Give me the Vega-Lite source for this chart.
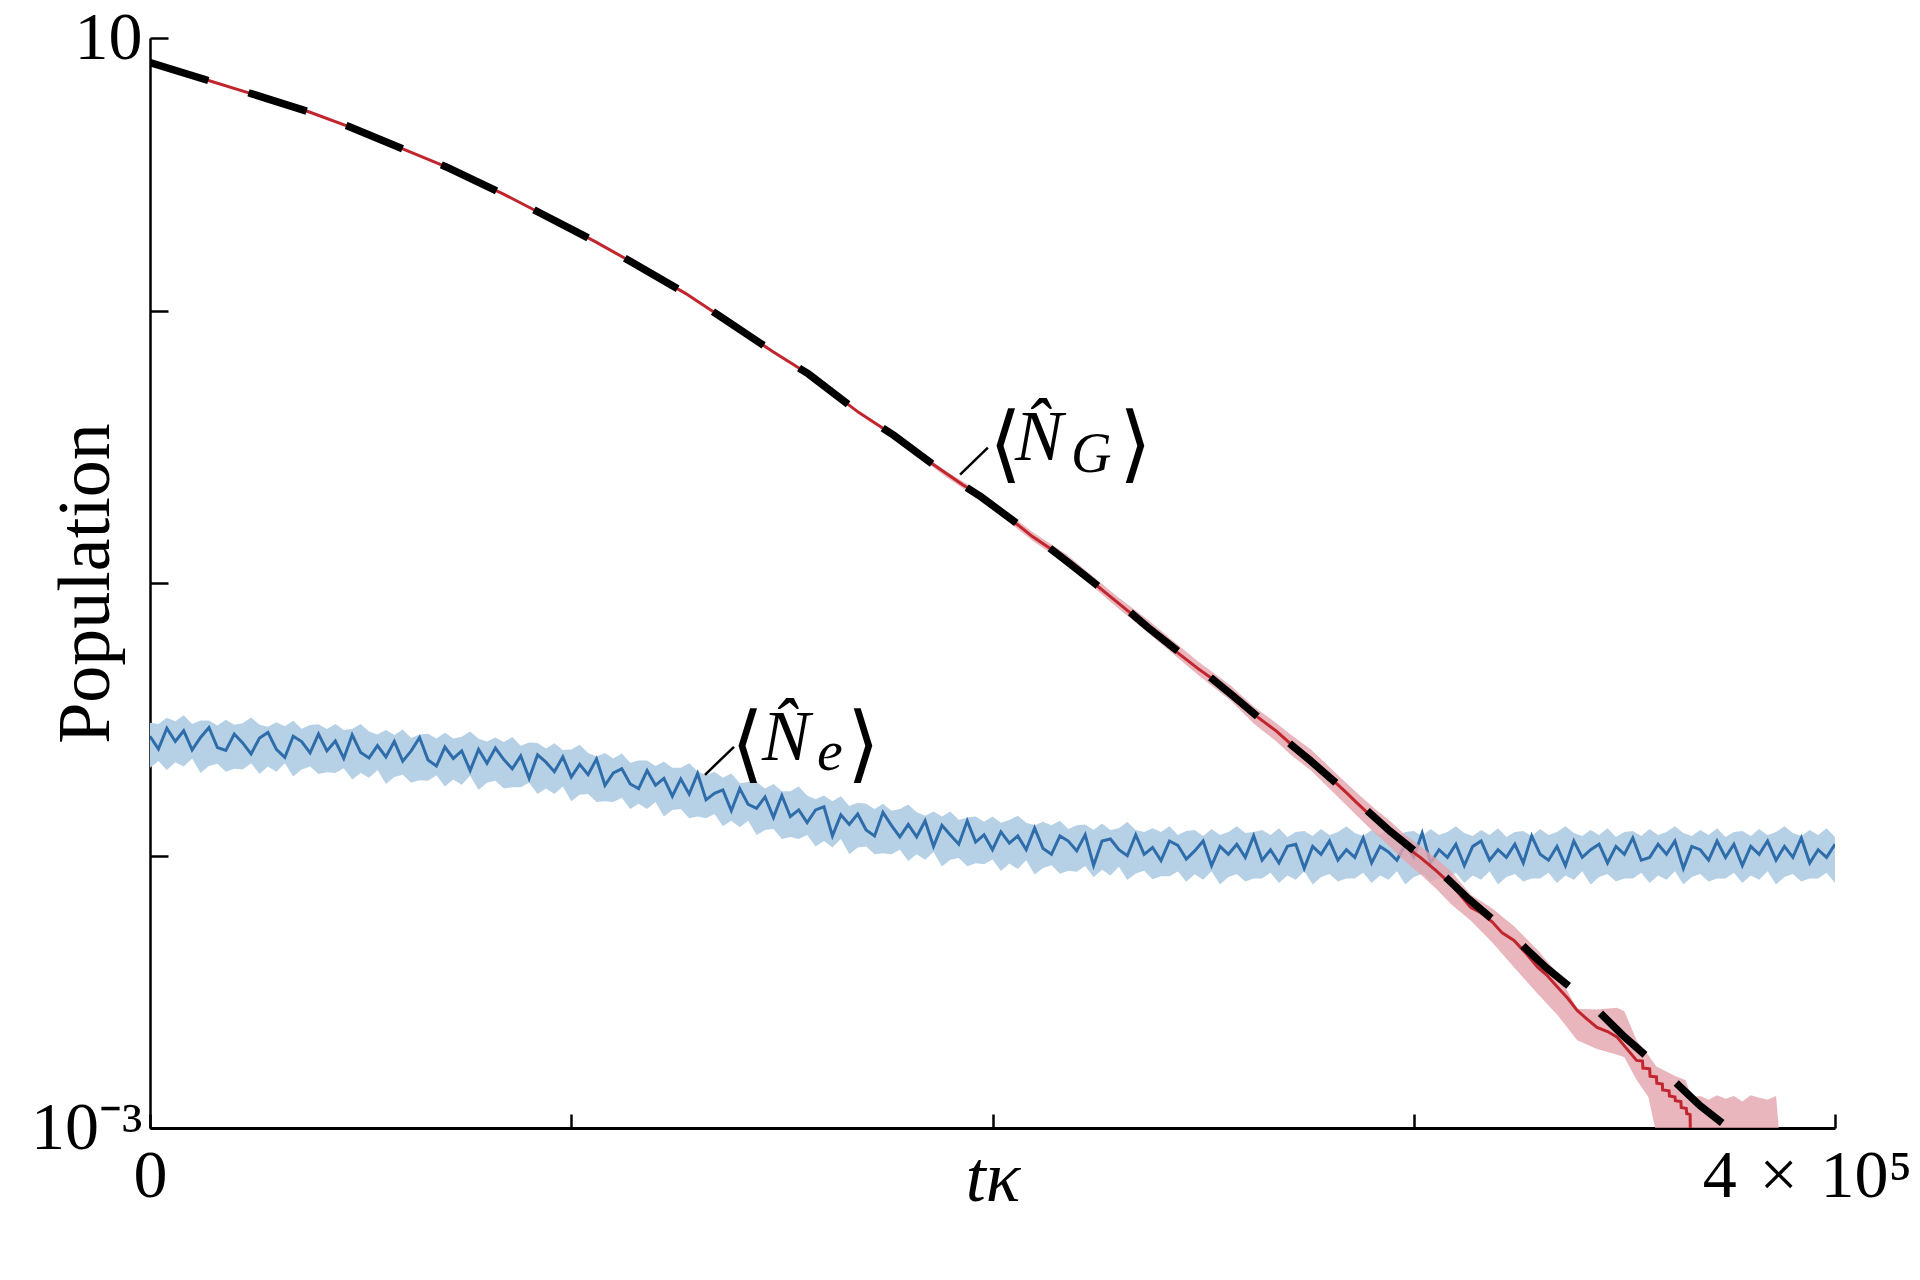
{
  "$schema": "https://vega.github.io/schema/vega-lite/v6.json",
  "autosize": {"type": "none"},
  "padding": {"left": 150, "top": 38, "right": 85, "bottom": 152},
  "width": 1685,
  "height": 1090,
  "background": "white",
  "config": {
    "view": {"stroke": null},
    "axis": {"grid": false, "domainColor": "black", "tickColor": "black", "labelColor": "black", "titleColor": "black", "labelLimit": 0}
  },
  "datasets": {
    "blue": [
      {"t":0,"m":0.0274,"lo":0.0210,"hi":0.0307},{"t":2000,"m":0.0246,"lo":0.0222,"hi":0.0304},{"t":4000,"m":0.0293,"lo":0.0206,"hi":0.0320},{"t":6000,"m":0.0262,"lo":0.0220,"hi":0.0311},
      {"t":8000,"m":0.0287,"lo":0.0212,"hi":0.0327},{"t":10000,"m":0.0244,"lo":0.0227,"hi":0.0304},{"t":12000,"m":0.0271,"lo":0.0201,"hi":0.0313},{"t":14000,"m":0.0295,"lo":0.0213,"hi":0.0313},
      {"t":16000,"m":0.0249,"lo":0.0217,"hi":0.0300},{"t":18000,"m":0.0243,"lo":0.0203,"hi":0.0315},{"t":20000,"m":0.0279,"lo":0.0208,"hi":0.0302},{"t":22000,"m":0.0259,"lo":0.0207,"hi":0.0306},
      {"t":24000,"m":0.0236,"lo":0.0218,"hi":0.0321},{"t":26000,"m":0.0270,"lo":0.0199,"hi":0.0302},{"t":28000,"m":0.0283,"lo":0.0212,"hi":0.0297},{"t":30000,"m":0.0245,"lo":0.0203,"hi":0.0308},
      {"t":32000,"m":0.0229,"lo":0.0218,"hi":0.0298},{"t":34000,"m":0.0274,"lo":0.0195,"hi":0.0312},{"t":36000,"m":0.0262,"lo":0.0207,"hi":0.0292},{"t":38000,"m":0.0238,"lo":0.0212,"hi":0.0301},
      {"t":40000,"m":0.0279,"lo":0.0199,"hi":0.0303},{"t":42000,"m":0.0242,"lo":0.0202,"hi":0.0291},{"t":44000,"m":0.0263,"lo":0.0201,"hi":0.0304},{"t":46000,"m":0.0227,"lo":0.0209,"hi":0.0289},
      {"t":48000,"m":0.0277,"lo":0.0190,"hi":0.0291},{"t":50000,"m":0.0239,"lo":0.0201,"hi":0.0304},{"t":52000,"m":0.0228,"lo":0.0193,"hi":0.0285},{"t":54000,"m":0.0253,"lo":0.0206,"hi":0.0278},
      {"t":56000,"m":0.0230,"lo":0.0183,"hi":0.0289},{"t":58000,"m":0.0262,"lo":0.0194,"hi":0.0277},{"t":60000,"m":0.0222,"lo":0.0198,"hi":0.0290},{"t":62000,"m":0.0242,"lo":0.0185,"hi":0.0270},
      {"t":64000,"m":0.0271,"lo":0.0189,"hi":0.0278},{"t":66000,"m":0.0224,"lo":0.0188,"hi":0.0280},{"t":68000,"m":0.0213,"lo":0.0197,"hi":0.0269},{"t":70000,"m":0.0250,"lo":0.0179,"hi":0.0282},
      {"t":72000,"m":0.0227,"lo":0.0190,"hi":0.0269},{"t":74000,"m":0.0242,"lo":0.0182,"hi":0.0273},{"t":76000,"m":0.0205,"lo":0.0196,"hi":0.0285},{"t":78000,"m":0.0245,"lo":0.0174,"hi":0.0268},
      {"t":80000,"m":0.0218,"lo":0.0185,"hi":0.0262},{"t":82000,"m":0.0248,"lo":0.0188,"hi":0.0271},{"t":84000,"m":0.0225,"lo":0.0176,"hi":0.0261},{"t":86000,"m":0.0208,"lo":0.0178,"hi":0.0272},
      {"t":88000,"m":0.0232,"lo":0.0178,"hi":0.0253},{"t":90000,"m":0.0192,"lo":0.0185,"hi":0.0260},{"t":92000,"m":0.0234,"lo":0.0168,"hi":0.0259},{"t":94000,"m":0.0220,"lo":0.0176,"hi":0.0247},
      {"t":96000,"m":0.0203,"lo":0.0168,"hi":0.0258},{"t":98000,"m":0.0230,"lo":0.0179,"hi":0.0244},{"t":100000,"m":0.0194,"lo":0.0158,"hi":0.0245},{"t":102000,"m":0.0216,"lo":0.0167,"hi":0.0255},
      {"t":104000,"m":0.0198,"lo":0.0168,"hi":0.0238},{"t":106000,"m":0.0226,"lo":0.0157,"hi":0.0231},{"t":108000,"m":0.0181,"lo":0.0158,"hi":0.0238},{"t":110000,"m":0.0201,"lo":0.0157,"hi":0.0227},
      {"t":112000,"m":0.0208,"lo":0.0163,"hi":0.0237},{"t":114000,"m":0.0183,"lo":0.0148,"hi":0.0219},{"t":116000,"m":0.0176,"lo":0.0155,"hi":0.0223},{"t":118000,"m":0.0205,"lo":0.0148,"hi":0.0223},
      {"t":120000,"m":0.0181,"lo":0.0157,"hi":0.0213},{"t":122000,"m":0.0192,"lo":0.0139,"hi":0.0221},{"t":124000,"m":0.0165,"lo":0.0147,"hi":0.0210},{"t":126000,"m":0.0191,"lo":0.0148,"hi":0.0210},
      {"t":128000,"m":0.0168,"lo":0.0137,"hi":0.0218},{"t":130000,"m":0.0200,"lo":0.0139,"hi":0.0204},{"t":132000,"m":0.0160,"lo":0.0137,"hi":0.0197},{"t":134000,"m":0.0169,"lo":0.0142,"hi":0.0203},
      {"t":136000,"m":0.0174,"lo":0.0128,"hi":0.0193},{"t":138000,"m":0.0146,"lo":0.0134,"hi":0.0200},{"t":140000,"m":0.0176,"lo":0.0127,"hi":0.0184},{"t":142000,"m":0.0154,"lo":0.0134,"hi":0.0186},
      {"t":144000,"m":0.0149,"lo":0.0119,"hi":0.0186},{"t":146000,"m":0.0164,"lo":0.0124,"hi":0.0176},{"t":148000,"m":0.0138,"lo":0.0125,"hi":0.0183},{"t":150000,"m":0.0166,"lo":0.0115,"hi":0.0172},
      {"t":152000,"m":0.0139,"lo":0.0117,"hi":0.0172},{"t":154000,"m":0.0147,"lo":0.0115,"hi":0.0179},{"t":156000,"m":0.0132,"lo":0.0119,"hi":0.0166},{"t":158000,"m":0.0147,"lo":0.0108,"hi":0.0161},
      {"t":160000,"m":0.0151,"lo":0.0113,"hi":0.0166},{"t":162000,"m":0.0118,"lo":0.0107,"hi":0.0158},{"t":164000,"m":0.0141,"lo":0.0115,"hi":0.0165},{"t":166000,"m":0.0130,"lo":0.0101,"hi":0.0152},
      {"t":168000,"m":0.0142,"lo":0.0107,"hi":0.0156},{"t":170000,"m":0.0124,"lo":0.0108,"hi":0.0155},{"t":172000,"m":0.0118,"lo":0.0101,"hi":0.0148},{"t":174000,"m":0.0144,"lo":0.0102,"hi":0.0155},
      {"t":176000,"m":0.0129,"lo":0.0101,"hi":0.0146},{"t":178000,"m":0.0117,"lo":0.0105,"hi":0.0148},{"t":180000,"m":0.0130,"lo":0.00955,"hi":0.0154},{"t":182000,"m":0.0117,"lo":0.0101,"hi":0.0144},
      {"t":184000,"m":0.0134,"lo":0.00964,"hi":0.0140},{"t":186000,"m":0.0108,"lo":0.0103,"hi":0.0145},{"t":188000,"m":0.0129,"lo":0.00912,"hi":0.0139},{"t":190000,"m":0.0119,"lo":0.00964,"hi":0.0145},
      {"t":192000,"m":0.0110,"lo":0.00979,"hi":0.0135},{"t":194000,"m":0.0134,"lo":0.00913,"hi":0.0138},{"t":196000,"m":0.0112,"lo":0.00936,"hi":0.0139},{"t":198000,"m":0.0119,"lo":0.00928,"hi":0.0133},
      {"t":200000,"m":0.0105,"lo":0.00966,"hi":0.0139},{"t":202000,"m":0.0122,"lo":0.00878,"hi":0.0132},{"t":204000,"m":0.0111,"lo":0.00935,"hi":0.0135},{"t":206000,"m":0.0118,"lo":0.00893,"hi":0.0140},
      {"t":208000,"m":0.0105,"lo":0.00961,"hi":0.0132},{"t":210000,"m":0.0126,"lo":0.00851,"hi":0.0129},{"t":212000,"m":0.0106,"lo":0.00899,"hi":0.0133},{"t":214000,"m":0.0101,"lo":0.00921,"hi":0.0129},
      {"t":216000,"m":0.0118,"lo":0.00858,"hi":0.0134},{"t":218000,"m":0.0113,"lo":0.00880,"hi":0.0125},{"t":220000,"m":0.0104,"lo":0.00872,"hi":0.0129},{"t":222000,"m":0.0119,"lo":0.00916,"hi":0.0130},
      {"t":224000,"m":0.00919,"lo":0.00832,"hi":0.0124},{"t":226000,"m":0.0113,"lo":0.00886,"hi":0.0131},{"t":228000,"m":0.0115,"lo":0.00845,"hi":0.0124},{"t":230000,"m":0.0105,"lo":0.00910,"hi":0.0126},
      {"t":232000,"m":0.00998,"lo":0.00813,"hi":0.0133},{"t":234000,"m":0.0119,"lo":0.00859,"hi":0.0124},{"t":236000,"m":0.0101,"lo":0.00880,"hi":0.0122},{"t":238000,"m":0.0107,"lo":0.00819,"hi":0.0126},
      {"t":240000,"m":0.00958,"lo":0.00840,"hi":0.0122},{"t":242000,"m":0.0113,"lo":0.00840,"hi":0.0128},{"t":244000,"m":0.0109,"lo":0.00874,"hi":0.0119},{"t":246000,"m":0.0097,"lo":0.00801,"hi":0.0123},
      {"t":248000,"m":0.0104,"lo":0.00853,"hi":0.0124},{"t":250000,"m":0.0113,"lo":0.00814,"hi":0.0118},{"t":252000,"m":0.00918,"lo":0.00876,"hi":0.0125},{"t":254000,"m":0.0108,"lo":0.00783,"hi":0.0119},
      {"t":256000,"m":0.0101,"lo":0.00834,"hi":0.0122},{"t":258000,"m":0.0110,"lo":0.00855,"hi":0.0128},{"t":260000,"m":0.00984,"lo":0.00803,"hi":0.0121},{"t":262000,"m":0.0118,"lo":0.00824,"hi":0.0122},
      {"t":264000,"m":0.00961,"lo":0.00824,"hi":0.0124},{"t":266000,"m":0.0105,"lo":0.00865,"hi":0.0119},{"t":268000,"m":0.00939,"lo":0.00793,"hi":0.0126},{"t":270000,"m":0.0108,"lo":0.00845,"hi":0.0117},
      {"t":272000,"m":0.0110,"lo":0.00814,"hi":0.0122},{"t":274000,"m":0.00897,"lo":0.00876,"hi":0.0123},{"t":276000,"m":0.0108,"lo":0.00783,"hi":0.0118},{"t":278000,"m":0.0101,"lo":0.00834,"hi":0.0125},
      {"t":280000,"m":0.0113,"lo":0.00855,"hi":0.0119},{"t":282000,"m":0.00961,"lo":0.00803,"hi":0.0122},{"t":284000,"m":0.0105,"lo":0.00824,"hi":0.0128},{"t":286000,"m":0.00984,"lo":0.00824,"hi":0.0121},
      {"t":288000,"m":0.0116,"lo":0.00865,"hi":0.0118},{"t":290000,"m":0.00939,"lo":0.00793,"hi":0.0124},{"t":292000,"m":0.0108,"lo":0.00845,"hi":0.0119},{"t":294000,"m":0.0103,"lo":0.00814,"hi":0.0126},
      {"t":296000,"m":0.00961,"lo":0.00876,"hi":0.0117},{"t":298000,"m":0.0110,"lo":0.00783,"hi":0.0122},{"t":300000,"m":0.00984,"lo":0.00834,"hi":0.0123},{"t":302000,"m":0.0121,"lo":0.00855,"hi":0.0118},
      {"t":304000,"m":0.00939,"lo":0.00803,"hi":0.0125},{"t":306000,"m":0.0105,"lo":0.00824,"hi":0.0119},{"t":308000,"m":0.00984,"lo":0.00824,"hi":0.0122},{"t":310000,"m":0.0110,"lo":0.00865,"hi":0.0128},
      {"t":312000,"m":0.00918,"lo":0.00793,"hi":0.0121},{"t":314000,"m":0.0108,"lo":0.00845,"hi":0.0118},{"t":316000,"m":0.0113,"lo":0.00814,"hi":0.0124},{"t":318000,"m":0.00961,"lo":0.00876,"hi":0.0119},
      {"t":320000,"m":0.0105,"lo":0.00783,"hi":0.0126},{"t":322000,"m":0.00984,"lo":0.00834,"hi":0.0117},{"t":324000,"m":0.0110,"lo":0.00855,"hi":0.0122},{"t":326000,"m":0.00939,"lo":0.00803,"hi":0.0123},
      {"t":328000,"m":0.0118,"lo":0.00824,"hi":0.0118},{"t":330000,"m":0.0101,"lo":0.00824,"hi":0.0125},{"t":332000,"m":0.00961,"lo":0.00865,"hi":0.0119},{"t":334000,"m":0.0108,"lo":0.00793,"hi":0.0122},
      {"t":336000,"m":0.00918,"lo":0.00845,"hi":0.0128},{"t":338000,"m":0.0113,"lo":0.00814,"hi":0.0121},{"t":340000,"m":0.00984,"lo":0.00876,"hi":0.0118},{"t":342000,"m":0.0105,"lo":0.00783,"hi":0.0124},
      {"t":344000,"m":0.0110,"lo":0.00834,"hi":0.0119},{"t":346000,"m":0.00939,"lo":0.00855,"hi":0.0126},{"t":348000,"m":0.0108,"lo":0.00803,"hi":0.0117},{"t":350000,"m":0.0101,"lo":0.00824,"hi":0.0122},
      {"t":352000,"m":0.0116,"lo":0.00824,"hi":0.0123},{"t":354000,"m":0.00961,"lo":0.00865,"hi":0.0118},{"t":356000,"m":0.00984,"lo":0.00793,"hi":0.0125},{"t":358000,"m":0.0110,"lo":0.00845,"hi":0.0119},
      {"t":360000,"m":0.0101,"lo":0.00814,"hi":0.0122},{"t":362000,"m":0.0113,"lo":0.00876,"hi":0.0128},{"t":364000,"m":0.00897,"lo":0.00783,"hi":0.0121},{"t":366000,"m":0.0108,"lo":0.00834,"hi":0.0118},
      {"t":368000,"m":0.0105,"lo":0.00855,"hi":0.0124},{"t":370000,"m":0.00961,"lo":0.00803,"hi":0.0119},{"t":372000,"m":0.0113,"lo":0.00824,"hi":0.0126},{"t":374000,"m":0.00984,"lo":0.00824,"hi":0.0117},
      {"t":376000,"m":0.0110,"lo":0.00865,"hi":0.0122},{"t":378000,"m":0.00918,"lo":0.00793,"hi":0.0123},{"t":380000,"m":0.0108,"lo":0.00845,"hi":0.0118},{"t":382000,"m":0.0101,"lo":0.00814,"hi":0.0125},
      {"t":384000,"m":0.0113,"lo":0.00876,"hi":0.0119},{"t":386000,"m":0.00961,"lo":0.00783,"hi":0.0122},{"t":388000,"m":0.0108,"lo":0.00834,"hi":0.0128},{"t":390000,"m":0.00984,"lo":0.00855,"hi":0.0121},
      {"t":392000,"m":0.0116,"lo":0.00803,"hi":0.0118},{"t":394000,"m":0.00939,"lo":0.00824,"hi":0.0124},{"t":396000,"m":0.0105,"lo":0.00824,"hi":0.0119},{"t":398000,"m":0.00984,"lo":0.00865,"hi":0.0126},
      {"t":400000,"m":0.0110,"lo":0.00793,"hi":0.0117}
    ],
    "redband": [
      {"t":176600,"lo":0.343,"hi":0.353},{"t":188800,"lo":0.246,"hi":0.258},{"t":197300,"lo":0.201,"hi":0.215},{"t":209500,"lo":0.143,"hi":0.154},
      {"t":217700,"lo":0.117,"hi":0.127},{"t":229300,"lo":0.0820,"hi":0.0900},{"t":236800,"lo":0.0660,"hi":0.0735},{"t":248800,"lo":0.0460,"hi":0.0515},
      {"t":256600,"lo":0.0370,"hi":0.0420},{"t":262000,"lo":0.0305,"hi":0.0352},{"t":267400,"lo":0.0262,"hi":0.0306},{"t":271000,"lo":0.0233,"hi":0.0276},
      {"t":275600,"lo":0.0205,"hi":0.0245},{"t":281000,"lo":0.0170,"hi":0.0204},{"t":286500,"lo":0.0140,"hi":0.0170},{"t":290000,"lo":0.0124,"hi":0.0152},
      {"t":294300,"lo":0.0108,"hi":0.0134},{"t":298000,"lo":0.0095,"hi":0.0119},{"t":301700,"lo":0.0085,"hi":0.0108},{"t":305500,"lo":0.0075,"hi":0.0097},
      {"t":309000,"lo":0.0066,"hi":0.0087},{"t":313500,"lo":0.00577,"hi":0.0072},{"t":318600,"lo":0.0048,"hi":0.0064},{"t":323800,"lo":0.00389,"hi":0.0055},
      {"t":329400,"lo":0.00311,"hi":0.0045},{"t":334100,"lo":0.0026,"hi":0.0037},{"t":338800,"lo":0.0021,"hi":0.00274},{"t":343500,"lo":0.00195,"hi":0.00272},
      {"t":348200,"lo":0.00186,"hi":0.00276},{"t":350000,"lo":0.00182,"hi":0.00268},{"t":352900,"lo":0.00150,"hi":0.0021},{"t":355700,"lo":0.00130,"hi":0.00185},
      {"t":357600,"lo":0.00095,"hi":0.00168},{"t":362200,"lo":0.0008,"hi":0.00155},{"t":364500,"lo":0.0008,"hi":0.0015},{"t":366000,"lo":0.0008,"hi":0.0013},
      {"t":368000,"lo":0.0008,"hi":0.00131},{"t":370000,"lo":0.0008,"hi":0.00127},{"t":372000,"lo":0.0008,"hi":0.00132},{"t":374000,"lo":0.0008,"hi":0.00128},
      {"t":376000,"lo":0.0008,"hi":0.00131},{"t":378000,"lo":0.0008,"hi":0.00125},{"t":380000,"lo":0.0008,"hi":0.00132},{"t":382000,"lo":0.0008,"hi":0.00129},
      {"t":384000,"lo":0.0008,"hi":0.00127},{"t":386000,"lo":0.0008,"hi":0.00131},{"t":387200,"lo":0.0008,"hi":0.0008}
    ],
    "red": [
      {"t":0,"v":8.12},{"t":13900,"v":6.98},{"t":24200,"v":6.24},{"t":38000,"v":5.34},{"t":47200,"v":4.73},{"t":61000,"v":3.86},
      {"t":70200,"v":3.37},{"t":83800,"v":2.68},{"t":92600,"v":2.28},{"t":105700,"v":1.79},{"t":114500,"v":1.50},{"t":127100,"v":1.156},
      {"t":135700,"v":0.944},{"t":147900,"v":0.706},{"t":156300,"v":0.585},{"t":168200,"v":0.423},{"t":176600,"v":0.348},{"t":182000,"v":0.300},
      {"t":188800,"v":0.254},{"t":193000,"v":0.229},{"t":197300,"v":0.209},{"t":203000,"v":0.178},{"t":209500,"v":0.148},{"t":213000,"v":0.136},
      {"t":217700,"v":0.122},{"t":223000,"v":0.103},{"t":229300,"v":0.0858},{"t":233000,"v":0.0770},{"t":236800,"v":0.0697},{"t":242000,"v":0.0585},
      {"t":248800,"v":0.0485},{"t":252000,"v":0.0447},{"t":256600,"v":0.0398},{"t":262000,"v":0.0330},{"t":267400,"v":0.0286},{"t":271000,"v":0.0255},
      {"t":275600,"v":0.0228},{"t":278000,"v":0.0207},{"t":281000,"v":0.0188},{"t":284000,"v":0.0170},{"t":286500,"v":0.0156},{"t":290000,"v":0.0139},
      {"t":294300,"v":0.0122},{"t":298000,"v":0.0108},{"t":301700,"v":0.0098},{"t":305500,"v":0.00874},{"t":309000,"v":0.0078},{"t":313500,"v":0.00645},
      {"t":316000,"v":0.00615},{"t":318600,"v":0.00571},{"t":321000,"v":0.00520},{"t":323800,"v":0.00488},{"t":326500,"v":0.00440},{"t":329400,"v":0.00389},
      {"t":331500,"v":0.00365},{"t":334100,"v":0.00329},{"t":336500,"v":0.00300},{"t":338800,"v":0.00270},{"t":341000,"v":0.00252},{"t":343500,"v":0.00234},
      {"t":346000,"v":0.00226},{"t":348200,"v":0.00216},{"t":350500,"v":0.00196},{"t":352900,"v":0.00177},{"t":354300,"v":0.00176},{"t":354400,"v":0.00166},
      {"t":356000,"v":0.00165},{"t":356100,"v":0.00155},{"t":357600,"v":0.00154},{"t":357700,"v":0.00146},{"t":359000,"v":0.00145},{"t":359100,"v":0.00138},
      {"t":360600,"v":0.00137},{"t":360700,"v":0.00131},{"t":362000,"v":0.00130},{"t":362100,"v":0.00126},{"t":363400,"v":0.00125},{"t":363500,"v":0.00119},
      {"t":364700,"v":0.00118},{"t":364800,"v":0.00113},{"t":365600,"v":0.00112},{"t":365700,"v":0.00090}
    ],
    "theory": [
      {"t":0,"v":8.12},{"t":13900,"v":6.98},{"t":24200,"v":6.24},{"t":38000,"v":5.34},{"t":47200,"v":4.73},{"t":61000,"v":3.86},
      {"t":70200,"v":3.37},{"t":83800,"v":2.68},{"t":92600,"v":2.28},{"t":105700,"v":1.79},{"t":114500,"v":1.50},{"t":127100,"v":1.156},
      {"t":135700,"v":0.944},{"t":147900,"v":0.706},{"t":156300,"v":0.585},{"t":168200,"v":0.423},{"t":176600,"v":0.348},{"t":188800,"v":0.252},
      {"t":197300,"v":0.207},{"t":209500,"v":0.150},{"t":217700,"v":0.120},{"t":229300,"v":0.0865},{"t":236800,"v":0.0689},{"t":248800,"v":0.0491},
      {"t":256600,"v":0.0391},{"t":267400,"v":0.0283},{"t":275600,"v":0.0222},{"t":286500,"v":0.0158},{"t":294300,"v":0.0123},{"t":305500,"v":0.00893},
      {"t":313000,"v":0.00693},{"t":323800,"v":0.00501},{"t":331300,"v":0.00389},{"t":342100,"v":0.00285},{"t":349600,"v":0.00219},{"t":360400,"v":0.00156},
      {"t":367900,"v":0.00121},{"t":374400,"v":0.00101}
    ],
    "leaders": [
      {"t":192300,"v":0.2497,"t2":198900,"v2":0.3139},
      {"t":131750,"v":0.01978,"t2":138640,"v2":0.02506}
    ],
    "annoG": [{"t":200600,"v":0.2837}],
    "annoE": [{"t":139350,"v":0.02245}]
  },
  "encoding": {
    "x": {
      "field": "t",
      "type": "quantitative",
      "scale": {"domain": [0, 400000], "nice": false, "zero": false},
      "axis": {
        "title": "t\u03ba",
        "titleFont": "Liberation Serif",
        "titleFontSize": 72,
        "titleFontStyle": "italic",
        "titleFontWeight": "normal",
        "titleBaseline": "alphabetic",
        "titleY": 72,
        "values": [0, 100000, 200000, 300000, 400000],
        "labelExpr": "datum.value == 0 ? '0' : (datum.value == 400000 ? '4\u2004\u00d7\u200410\u2075' : '')",
        "labelFont": "Liberation Serif",
        "labelFontSize": 68,
        "labelLimit": 0,
        "labelFlush": false,
        "labelOverlap": false,
        "labelBound": false,
        "labelPadding": 28,
        "labelOffset": {"condition": {"test": "datum.value == 400000", "value": -28}, "value": 0},
        "tickSize": -14,
        "tickWidth": 2.5,
        "domainWidth": 3
      }
    }
  },
  "layer": [
    {
      "data": {"name": "blue"},
      "mark": {"type": "area", "color": "#b6d1e6", "opacity": 1, "clip": true},
      "encoding": {
        "y": {
          "field": "lo",
          "type": "quantitative",
          "scale": {"type": "log", "domain": [0.001, 10], "nice": false},
          "axis": {
            "title": "Population",
            "titleFont": "Liberation Serif",
            "titleFontSize": 74,
            "titleFontWeight": "normal",
            "titleBaseline": "alphabetic",
            "titleX": -42,
            "titleY": 545,
            "values": [0.001, 0.01, 0.1, 1, 10],
            "labelExpr": "datum.value == 10 ? '10' : (datum.value == 0.001 ? '10\u207b\u00b3' : '')",
            "labelFont": "Liberation Serif",
            "labelFontSize": 68,
            "labelLimit": 0,
            "labelFlush": false,
            "labelOverlap": false,
            "labelBound": false,
            "labelPadding": 26,
            "tickSize": -18,
            "tickWidth": 2.5,
            "domainWidth": 2.5
          }
        },
        "y2": {"field": "hi"}
      }
    },
    {
      "data": {"name": "blue"},
      "mark": {"type": "line", "color": "#2f6caa", "strokeWidth": 3, "clip": true},
      "encoding": {
        "y": {"field": "m", "type": "quantitative", "scale": {"type": "log", "domain": [0.001, 10], "nice": false}}
      }
    },
    {
      "data": {"name": "redband"},
      "mark": {"type": "area", "color": "#e3a4ad", "opacity": 0.8, "clip": true},
      "encoding": {
        "y": {"field": "lo", "type": "quantitative", "scale": {"type": "log", "domain": [0.001, 10], "nice": false}},
        "y2": {"field": "hi"}
      }
    },
    {
      "data": {"name": "red"},
      "mark": {"type": "line", "color": "#c1252d", "strokeWidth": 3, "clip": true},
      "encoding": {
        "y": {"field": "v", "type": "quantitative", "scale": {"type": "log", "domain": [0.001, 10], "nice": false}}
      }
    },
    {
      "data": {"name": "theory"},
      "mark": {"type": "line", "color": "black", "strokeWidth": 7.5, "strokeDash": [61, 42], "strokeCap": "butt", "clip": true},
      "encoding": {
        "y": {"field": "v", "type": "quantitative", "scale": {"type": "log", "domain": [0.001, 10], "nice": false}}
      }
    },
    {
      "data": {"name": "leaders"},
      "mark": {"type": "rule", "color": "black", "strokeWidth": 2.5},
      "encoding": {
        "x2": {"field": "t2"},
        "y": {"field": "v", "type": "quantitative", "scale": {"type": "log", "domain": [0.001, 10], "nice": false}},
        "y2": {"field": "v2"}
      }
    },
    {
      "data": {"name": "annoG"},
      "mark": {"type": "text", "text": "\u27e8", "font": "DejaVu Serif", "fontSize": 84, "align": "left", "baseline": "alphabetic", "dx": -6, "dy": 12},
      "encoding": {"y": {"field": "v", "type": "quantitative", "scale": {"type": "log", "domain": [0.001, 10], "nice": false}}}
    },
    {
      "data": {"name": "annoG"},
      "mark": {"type": "text", "text": "N\u0302", "font": "Liberation Serif", "fontStyle": "italic", "fontSize": 72, "align": "left", "baseline": "alphabetic", "dx": 20},
      "encoding": {"y": {"field": "v", "type": "quantitative", "scale": {"type": "log", "domain": [0.001, 10], "nice": false}}}
    },
    {
      "data": {"name": "annoG"},
      "mark": {"type": "text", "text": "G", "font": "Liberation Serif", "fontStyle": "italic", "fontSize": 56, "align": "left", "baseline": "alphabetic", "dx": 76, "dy": 12},
      "encoding": {"y": {"field": "v", "type": "quantitative", "scale": {"type": "log", "domain": [0.001, 10], "nice": false}}}
    },
    {
      "data": {"name": "annoG"},
      "mark": {"type": "text", "text": "\u27e9", "font": "DejaVu Serif", "fontSize": 84, "align": "left", "baseline": "alphabetic", "dx": 124, "dy": 12},
      "encoding": {"y": {"field": "v", "type": "quantitative", "scale": {"type": "log", "domain": [0.001, 10], "nice": false}}}
    },
    {
      "data": {"name": "annoE"},
      "mark": {"type": "text", "text": "\u27e8", "font": "DejaVu Serif", "fontSize": 84, "align": "left", "baseline": "alphabetic", "dx": -6, "dy": 12},
      "encoding": {"y": {"field": "v", "type": "quantitative", "scale": {"type": "log", "domain": [0.001, 10], "nice": false}}}
    },
    {
      "data": {"name": "annoE"},
      "mark": {"type": "text", "text": "N\u0302", "font": "Liberation Serif", "fontStyle": "italic", "fontSize": 72, "align": "left", "baseline": "alphabetic", "dx": 25},
      "encoding": {"y": {"field": "v", "type": "quantitative", "scale": {"type": "log", "domain": [0.001, 10], "nice": false}}}
    },
    {
      "data": {"name": "annoE"},
      "mark": {"type": "text", "text": "e", "font": "Liberation Serif", "fontStyle": "italic", "fontSize": 58, "align": "left", "baseline": "alphabetic", "dx": 80, "dy": 10},
      "encoding": {"y": {"field": "v", "type": "quantitative", "scale": {"type": "log", "domain": [0.001, 10], "nice": false}}}
    },
    {
      "data": {"name": "annoE"},
      "mark": {"type": "text", "text": "\u27e9", "font": "DejaVu Serif", "fontSize": 84, "align": "left", "baseline": "alphabetic", "dx": 110, "dy": 12},
      "encoding": {"y": {"field": "v", "type": "quantitative", "scale": {"type": "log", "domain": [0.001, 10], "nice": false}}}
    }
  ]
}
